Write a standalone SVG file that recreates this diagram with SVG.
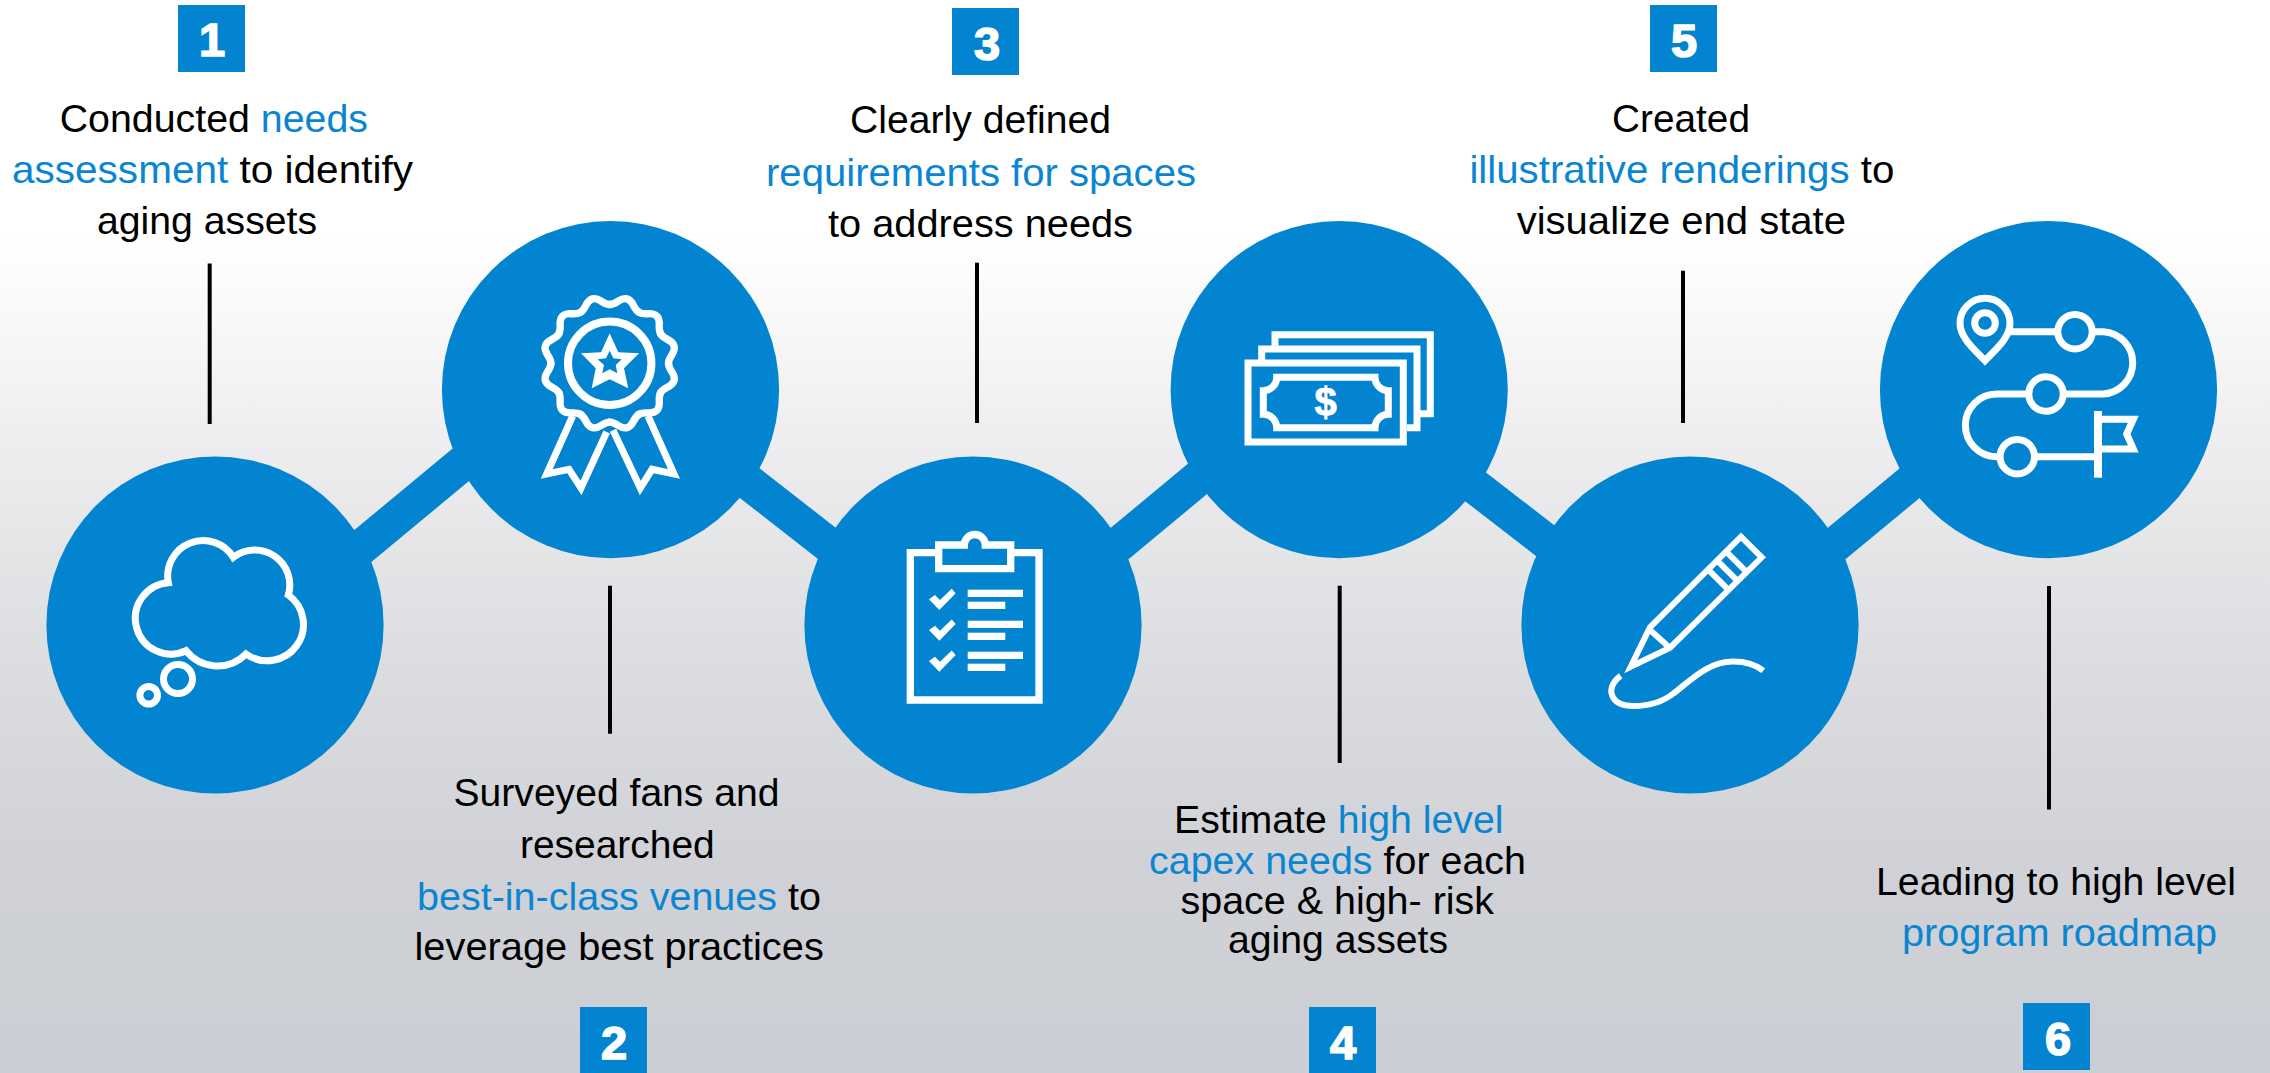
<svg xmlns="http://www.w3.org/2000/svg" xmlns:xlink="http://www.w3.org/1999/xlink" width="2270" height="1073" viewBox="0 0 2270 1073">
<style>
.t{font-family:"Liberation Sans",Arial,sans-serif;font-size:39px;fill:#000}
.b{fill:#0a85d2}
.d{font-family:"Liberation Sans",Arial,sans-serif;font-size:47px;font-weight:700;fill:#fff;stroke:#fff;stroke-width:1.6;text-anchor:middle}
.badge,.c{fill:#0284d0}
.i{fill:none;stroke:#fff;stroke-width:7}
.v{stroke:#000;stroke-width:4;fill:none}
.k{fill:none;stroke:#0284d0;stroke-width:35.5}
</style>
<defs>
<linearGradient id="bg" x1="0" y1="0" x2="0" y2="1">
<stop offset="0" stop-color="#fff"/>
<stop offset="0.22" stop-color="#fff"/>
<stop offset="0.3" stop-color="#f8f8f9"/>
<stop offset="0.42" stop-color="#ededef"/>
<stop offset="0.6" stop-color="#dddee1"/>
<stop offset="0.8" stop-color="#d0d2d7"/>
<stop offset="1" stop-color="#cbced4"/>
</linearGradient>
<path id="lobe" d="M0,-56 C7,-56 9.67,-63.15 16.43,-61.34 C23.19,-59.53 21.94,-52 28,-48.5"/>
<path id="chk" d="M929,599.3 L935,595 L940,600 L951.7,588.7 L955.7,593.3 L939.3,610 Z" fill="#fff"/>
</defs>
<rect width="2270" height="1073" fill="url(#bg)"/>

<g id="connectors">
<path class="k" d="M300,598.2 L520,415.6"/>
<path class="k" d="M700,444.4 L900,600.4"/>
<path class="k" d="M1060,593 L1260,427"/>
<path class="k" d="M1420,443.9 L1620,598.5"/>
<path class="k" d="M1780,590.4 L1980,425"/>
<path class="v" d="M209.7,263.4 V424"/>
<path class="v" d="M610,585.7 V733.7"/>
<path class="v" d="M977,262.7 V423"/>
<path class="v" d="M1339.7,585.7 V763"/>
<path class="v" d="M1683,270.7 V423"/>
<path class="v" d="M2049,586 V809.5"/>
</g>

<g id="node1">
<circle class="c" cx="215" cy="625" r="168.6"/>
<path class="i" d="M168.3,582.7 A35.5,35.5 0 0 1 233.3,557.3 A35,35 0 0 1 288.3,595 A35.6,35.6 0 1 1 246,654 A40,40 0 0 1 186,650.7 A35.7,35.7 0 1 1 168.3,582.7 Z"/>
<circle class="i" cx="178" cy="679" r="14.5"/>
<circle class="i" cx="148.7" cy="695.3" r="8.8"/>
<rect class="badge" x="178" y="5" width="67" height="67"/>
<text class="d" x="212" y="56">1</text>
<text class="t" x="59.7" y="131.7" textLength="308.3" lengthAdjust="spacingAndGlyphs">Conducted <tspan class="b">needs</tspan></text>
<text class="t" x="12" y="182.8" textLength="401" lengthAdjust="spacingAndGlyphs"><tspan class="b">assessment</tspan> to identify</text>
<text class="t" x="97" y="233.8" textLength="220" lengthAdjust="spacingAndGlyphs">aging assets</text>
</g>

<g id="node2">
<circle class="c" cx="610.5" cy="389.6" r="168.6"/>
<g class="i" transform="translate(609.7,363.3) scale(1.05)" stroke-linecap="round">
<use xlink:href="#lobe" href="#lobe"/>
<use xlink:href="#lobe" href="#lobe" transform="rotate(30)"/>
<use xlink:href="#lobe" href="#lobe" transform="rotate(60)"/>
<use xlink:href="#lobe" href="#lobe" transform="rotate(90)"/>
<use xlink:href="#lobe" href="#lobe" transform="rotate(120)"/>
<use xlink:href="#lobe" href="#lobe" transform="rotate(150)"/>
<use xlink:href="#lobe" href="#lobe" transform="rotate(180)"/>
<use xlink:href="#lobe" href="#lobe" transform="rotate(210)"/>
<use xlink:href="#lobe" href="#lobe" transform="rotate(240)"/>
<use xlink:href="#lobe" href="#lobe" transform="rotate(270)"/>
<use xlink:href="#lobe" href="#lobe" transform="rotate(300)"/>
<use xlink:href="#lobe" href="#lobe" transform="rotate(330)"/>
</g>
<circle class="i" cx="609.7" cy="363.3" r="41.7" style="stroke-width:8"/>
<path fill="#fff" fill-rule="evenodd" d="M609.7,333.3 L618.3,352.3 L639,353.3 L624,368.3 L628.3,388.3 L609.7,379.3 L591.7,388.3 L595.7,368.3 L581,353.3 L601,352.3 Z M609.7,350.7 L613.3,358.3 L621.7,359.3 L615.7,365 L617.3,373.3 L609.7,369.3 L602.3,373.3 L604,365 L597.7,359.3 L606,358.3 Z"/>
<path class="i" d="M572.7,416 L546.7,474 L569,469.3 L581,488 L606.7,432"/>
<path class="i" d="M648,416 L674,474 L652,469.3 L640.3,488 L613,430.3"/>
<rect class="badge" x="580" y="1007" width="67" height="66"/>
<text class="d" x="614" y="1059">2</text>
<text class="t" x="453.5" y="806" textLength="326" lengthAdjust="spacingAndGlyphs">Surveyed fans and</text>
<text class="t" x="520" y="858" textLength="194.7" lengthAdjust="spacingAndGlyphs">researched</text>
<text class="t" x="417" y="909.5" textLength="404" lengthAdjust="spacingAndGlyphs"><tspan class="b">best-in-class venues</tspan> to</text>
<text class="t" x="414.5" y="960" textLength="409.3" lengthAdjust="spacingAndGlyphs">leverage best practices</text>
</g>

<g id="node3">
<circle class="c" cx="973" cy="625" r="168.6"/>
<path class="i" d="M938.7,552.7 H910.3 V700 H1039 V552.7 H1010.7" style="stroke-width:7.3"/>
<path class="i" d="M964.3,545 H938.7 V568.7 H1010.7 V545 H985.3 A10.5,10.5 0 0 0 964.3,545 Z" style="stroke-width:7.3"/>
<use xlink:href="#chk" href="#chk"/>
<use xlink:href="#chk" href="#chk" y="30.8"/>
<use xlink:href="#chk" href="#chk" y="61.7"/>
<g fill="#fff">
<rect x="967.7" y="589.7" width="55.3" height="7.3"/>
<rect x="967.7" y="601.7" width="37.6" height="7.3"/>
<rect x="967.7" y="620.7" width="55.3" height="7.3"/>
<rect x="967.7" y="632.7" width="37.6" height="7.3"/>
<rect x="967.7" y="651.7" width="55.3" height="7.3"/>
<rect x="967.7" y="663.7" width="37.6" height="7.3"/>
</g>
<rect class="badge" x="952" y="8" width="67" height="67"/>
<text class="d" x="987" y="60">3</text>
<text class="t" x="850" y="133.3" textLength="261" lengthAdjust="spacingAndGlyphs">Clearly defined</text>
<text class="t b" x="766" y="186" textLength="430" lengthAdjust="spacingAndGlyphs">requirements for spaces</text>
<text class="t" x="828" y="236.7" textLength="305" lengthAdjust="spacingAndGlyphs">to address needs</text>
</g>

<g id="node4">
<circle class="c" cx="1339.2" cy="389.6" r="168.6"/>
<path class="i" d="M1275,345.7 V334.7 H1430.3 V413.7 H1420"/>
<path class="i" d="M1261.7,360 V349 H1417 V427.7 H1407"/>
<rect class="i" x="1248" y="363" width="155.3" height="79"/>
<path class="i" d="M1276.7,377.3 H1375 A13.3,13.3 0 0 0 1388.3,390.7 V414.3 A13.3,13.3 0 0 0 1375,427.7 H1276.7 A13.3,13.3 0 0 0 1263.3,414.3 V390.7 A13.3,13.3 0 0 0 1276.7,377.3 Z"/>
<text class="d" x="1325.7" y="416" style="font-size:40px;stroke-width:.8">$</text>
<rect class="badge" x="1309" y="1007" width="67" height="66"/>
<text class="d" x="1343" y="1059">4</text>
<text class="t" x="1174" y="833" textLength="329.5" lengthAdjust="spacingAndGlyphs">Estimate <tspan class="b">high level</tspan></text>
<text class="t" x="1149" y="873.5" textLength="377" lengthAdjust="spacingAndGlyphs"><tspan class="b">capex needs</tspan> for each</text>
<text class="t" x="1180.5" y="913.6" textLength="313.5" lengthAdjust="spacingAndGlyphs">space &amp; high- risk</text>
<text class="t" x="1228" y="953" textLength="220" lengthAdjust="spacingAndGlyphs">aging assets</text>
</g>

<g id="node5">
<circle class="c" cx="1690" cy="625" r="168.6"/>
<path class="i" d="M1630.7,666.7 L1650,627.3 L1741,536.7 L1761.7,557.3 L1670,647.7 Z" style="stroke-width:6"/>
<path class="i" d="M1650,630 L1670,648 M1708,569.3 L1728.5,589.8 M1717,560.3 L1737.5,580.8 M1726,551.3 L1746.5,571.8" style="stroke-width:6"/>
<path class="i" d="M1620.7,675.7 C1612,682 1610,690 1612,695 C1615,704 1625,706 1634,706 C1650,706 1664,701 1674,693 C1690,681 1708,661.5 1733,661.5 C1745,661.5 1755,664 1763.3,670.7" style="stroke-width:6"/>
<rect class="badge" x="1650" y="5" width="67" height="67"/>
<text class="d" x="1684" y="56.5">5</text>
<text class="t" x="1612" y="131.7" textLength="138" lengthAdjust="spacingAndGlyphs">Created</text>
<text class="t" x="1469.4" y="182.7" textLength="425" lengthAdjust="spacingAndGlyphs"><tspan class="b">illustrative renderings</tspan> to</text>
<text class="t" x="1516.7" y="234" textLength="329.3" lengthAdjust="spacingAndGlyphs">visualize end state</text>
</g>

<g id="node6">
<circle class="c" cx="2048.5" cy="389.6" r="168.6"/>
<path class="i" d="M1985,360.7 C1975,350 1960,338 1960,323.3 A25,25 0 0 1 2010,323.3 C2010,338 1995,350 1985,360.7 Z"/>
<circle class="i" cx="1985" cy="323" r="10.3"/>
<circle class="i" cx="2075" cy="331.7" r="17.2"/>
<circle class="i" cx="2046" cy="394" r="17.2"/>
<circle class="i" cx="2017.3" cy="456.7" r="17.2"/>
<path class="i" d="M2010.7,331.7 H2058 M2092.2,331.7 H2103.3 A31.2,31.2 0 0 1 2103.3,394 H2063.2 M2028.8,394 H1996.7 A31.3,31.3 0 0 0 1996.7,456.7 H2000 M2034.5,456.7 H2098"/>
<path class="i" d="M2098,411 V477.7" style="stroke-width:8"/>
<path class="i" d="M2098,419.3 H2133.3 L2126.7,434 L2133.3,449 H2098"/>
<rect class="badge" x="2023" y="1003" width="67" height="67"/>
<text class="d" x="2058" y="1055">6</text>
<text class="t" x="1876" y="895" textLength="360" lengthAdjust="spacingAndGlyphs">Leading to high level</text>
<text class="t b" x="1902" y="946" textLength="315" lengthAdjust="spacingAndGlyphs">program roadmap</text>
</g>
</svg>
